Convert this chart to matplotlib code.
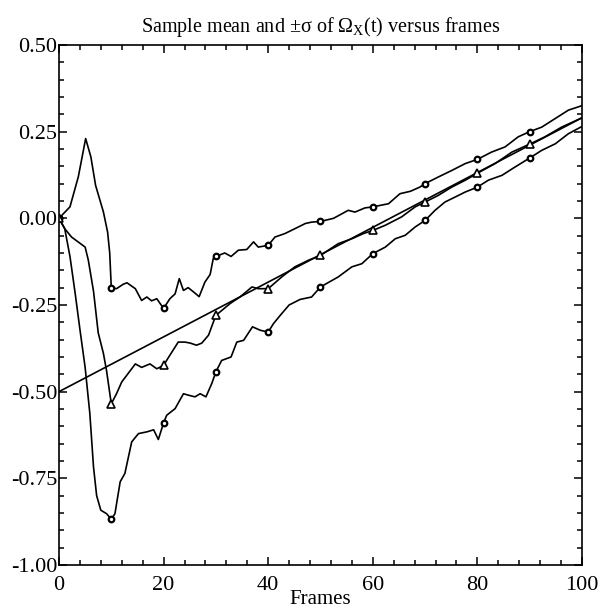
import numpy as np
import matplotlib
matplotlib.use("Agg")
import matplotlib.pyplot as plt
from matplotlib.ticker import MultipleLocator, FormatStrFormatter

plt.rcParams['font.family'] = ['Liberation Serif', 'DejaVu Serif']
plt.rcParams['mathtext.fontset'] = 'custom'
plt.rcParams['mathtext.rm'] = 'Liberation Serif'
plt.rcParams['axes.unicode_minus'] = False

# mean + sigma curve
upper_x = [0, 2.1, 3.7, 5.1, 6.1, 7.0, 8.5, 9.3, 9.7, 10, 11, 12.3, 13, 14.6, 15.8, 16.8, 17.7,
           18.7, 20, 21.2, 22.2, 23, 23.8, 24.7, 25.7, 26.8, 27.9, 28.9, 29.5, 30, 31.7, 32.9,
           34.3, 35.9, 37.2, 38.1, 40, 41.3, 43.2, 45.1, 47.1, 48.3, 50, 52.5, 55.3, 56.6,
           58.5, 60, 63, 65.2, 67.2, 69, 70, 72.5, 75.1, 77.7, 80, 82.7, 85.3, 87.8, 90, 92.3,
           94.9, 97.4, 100]
upper_y = [0.0, 0.033, 0.12, 0.23, 0.177, 0.095, 0.018, -0.04, -0.1, -0.2, -0.203, -0.19,
           -0.186, -0.203, -0.237, -0.227, -0.238, -0.232, -0.26, -0.232, -0.218, -0.174,
           -0.208, -0.2, -0.212, -0.226, -0.184, -0.162, -0.116, -0.11, -0.1, -0.11, -0.092,
           -0.09, -0.068, -0.083, -0.078, -0.054, -0.044, -0.03, -0.015, -0.011, -0.009, 0.0,
           0.023, 0.018, 0.03, 0.033, 0.042, 0.071, 0.078, 0.09, 0.10, 0.119, 0.138, 0.158,
           0.17, 0.191, 0.206, 0.235, 0.25, 0.263, 0.288, 0.312, 0.325]

# sample mean curve
mean_x = [0, 1.1, 2.4, 5.0, 5.6, 6.6, 7.5, 8.5, 9.1, 10, 11, 12, 13.6, 14.6, 15.8, 17.4,
          18.7, 20, 21.2, 22.8, 24.1, 25.1, 26.3, 27.3, 28.6, 29.5, 30, 32.7, 34.6, 36.9,
          38.1, 40, 42.6, 45.1, 47.7, 50, 53.4, 56, 58.2, 60, 62.4, 65.5, 68.1, 70, 72.5,
          75.1, 77.7, 80, 83.4, 86.6, 90, 92.9, 96.1, 100]
mean_y = [0.0, -0.03, -0.054, -0.083, -0.12, -0.21, -0.33, -0.39, -0.44, -0.535, -0.506,
          -0.472, -0.44, -0.42, -0.43, -0.42, -0.434, -0.424, -0.395, -0.357, -0.357, -0.36,
          -0.366, -0.36, -0.337, -0.30, -0.28, -0.246, -0.227, -0.198, -0.203, -0.203,
          -0.169, -0.14, -0.121, -0.107, -0.073, -0.059, -0.044, -0.035, -0.02, 0.004, 0.033,
          0.047, 0.066, 0.09, 0.11, 0.13, 0.158, 0.191, 0.214, 0.235, 0.263, 0.29]

# mean - sigma curve
lower_x = [0, 1.1, 2.1, 3.1, 4.0, 5.0, 5.9, 6.6, 7.2, 8.0, 9.1, 10, 10.7, 11.7, 12.6, 13.9,
           15.2, 16.8, 18.1, 19.0, 20, 20.6, 22.2, 23.8, 24.7, 26, 27, 28.1, 29.2, 30, 31.1,
           32.9, 34, 35.3, 37, 38.5, 40, 41, 42.3, 44, 46.1, 48.3, 50, 53.4, 56, 57.9, 60,
           62.4, 64.3, 66.2, 68.1, 70, 71.9, 73.8, 75.7, 77.7, 80, 82.1, 84.7, 87.2, 90,
           92.3, 94.9, 97.4, 100]
lower_y = [0.0, -0.03, -0.11, -0.217, -0.32, -0.43, -0.563, -0.717, -0.8, -0.842, -0.852,
           -0.868, -0.852, -0.76, -0.736, -0.645, -0.621, -0.616, -0.61, -0.638, -0.59,
           -0.568, -0.549, -0.506, -0.51, -0.515, -0.506, -0.515, -0.477, -0.443, -0.41,
           -0.4, -0.357, -0.352, -0.313, -0.323, -0.328, -0.304, -0.28, -0.25, -0.234,
           -0.227, -0.198, -0.169, -0.14, -0.131, -0.102, -0.083, -0.059, -0.049, -0.025,
           -0.006, 0.023, 0.047, 0.061, 0.076, 0.09, 0.11, 0.124, 0.148, 0.174, 0.196, 0.215,
           0.244, 0.265]

# straight fit line
fit_x = [0, 100]
fit_y = [-0.50, 0.29]

# marker positions every 10 frames
mark_x = [0, 10, 20, 30, 40, 50, 60, 70, 80, 90]
mark_upper = [0.0, -0.2, -0.26, -0.11, -0.078, -0.009, 0.033, 0.10, 0.17, 0.25]
mark_mean = [0.0, -0.535, -0.424, -0.278, -0.203, -0.107, -0.035, 0.047, 0.13, 0.214]
mark_lower = [0.0, -0.868, -0.59, -0.443, -0.328, -0.198, -0.102, -0.006, 0.09, 0.174]

fig = plt.figure(figsize=(6.0, 6.16), dpi=100)
ax = fig.add_axes([0.0983, 0.0828, 0.8717, 0.8442])

lw = 1.2
ax.plot(fit_x, fit_y, color='black', lw=lw)
ax.plot(upper_x, upper_y, color='black', lw=lw)
ax.plot(mean_x, mean_y, color='black', lw=lw)
ax.plot(lower_x, lower_y, color='black', lw=lw)

ax.plot(mark_x, mark_upper, ls='none', marker='o', ms=4, mfc='white', mec='black', mew=1.6)
ax.plot(mark_x, mark_lower, ls='none', marker='o', ms=4, mfc='white', mec='black', mew=1.6)
ax.plot(mark_x, mark_mean, ls='none', marker='^', ms=6, mfc='white', mec='black', mew=1.2)

ax.set_xlim(0, 100)
ax.set_ylim(-1.0, 0.5)
ax.xaxis.set_major_locator(MultipleLocator(20))
ax.xaxis.set_minor_locator(MultipleLocator(4))
ax.yaxis.set_major_locator(MultipleLocator(0.25))
ax.yaxis.set_minor_locator(MultipleLocator(0.05))
ax.yaxis.set_major_formatter(FormatStrFormatter('%.2f'))

ax.tick_params(which='both', direction='in', top=True, right=True, width=1.1, labelsize=16)
ax.tick_params(which='major', length=6)
ax.tick_params(which='minor', length=3.5)
ax.tick_params(axis='y', pad=1)
ax.tick_params(axis='x', pad=8)
for s in ax.spines.values():
    s.set_linewidth(1.2)

ax.set_xlabel('Frames', fontsize=15, labelpad=-4)
ax.set_title(r'Sample mean and ±σ of Ω$_{\mathrm{X}}$(t) versus frames', fontsize=14.5, pad=9)

fig.savefig('out.png', dpi=100)
